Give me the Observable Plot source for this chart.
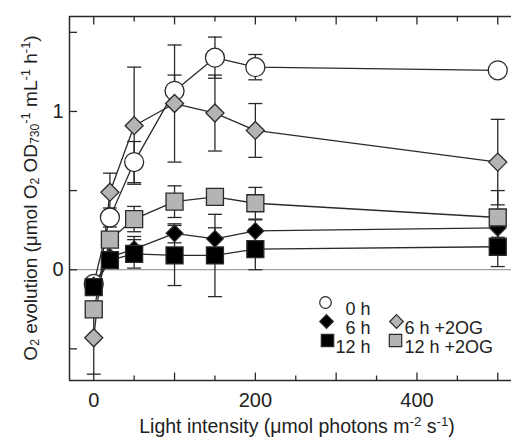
<!DOCTYPE html>
<html><head><meta charset="utf-8">
<script src="https://cdn.jsdelivr.net/npm/d3@7"></script>
<script src="https://cdn.jsdelivr.net/npm/@observablehq/plot@0.6"></script>
<style>body{margin:0;background:#fff;}</style>
</head><body><div id="chart"></div>
<script>
// ---- data ----
const lightX = [0, 20, 50, 100, 150, 200, 500];
const h0      = [-0.09, 0.33, 0.68, 1.13, 1.34, 1.28, 1.26];
const h0Err   = [0.03, 0.06, 0.13, 0.10, 0.13, 0.08, 0.02];
const h6      = [-0.10, 0.08, 0.13, 0.23, 0.195, 0.245, 0.265];
const h6Err   = [0.03, 0.03, 0.08, 0.06, 0.07, 0.07, 0.06];
const h6og    = [-0.43, 0.49, 0.91, 1.05, 0.99, 0.88, 0.68];
const h6ogErr = [0.23, 0.12, 0.37, 0.37, 0.24, 0.17, 0.27];
const h12og   = [-0.25, 0.19, 0.32, 0.43, 0.46, 0.42, 0.33];
const h12ogErr= [0.04, 0.04, 0.08, 0.10, 0.04, 0.10, 0.17];
const h12     = [-0.11, 0.06, 0.10, 0.09, 0.09, 0.13, 0.145];
const h12Err  = [0.03, 0.03, 0.09, 0.19, 0.26, 0.13, 0.125];
const seriesNames = ["0 h", "6 h", "6 h +2OG", "12 h +2OG", "12 h"];
const xMajor = [0, 100, 200, 300, 400, 500];
const xMinor = [50, 150, 250, 350, 450];
const xTickLabels = [0, 200, 400];
const yTicks = [-0.5, 0, 0.5, 1, 1.5];
const yTickLabels = [0, 1];

// ---- symbols ----
function sym(fn){ return {draw(ctx, size){ const r = Math.sqrt(size/Math.PI); fn(ctx, r); }}; }
const circleSym  = sym((c,r)=>{ c.moveTo(r,0); c.arc(0,0,r,0,2*Math.PI); c.closePath(); });
const squareSym  = sym((c,r)=>{ c.rect(-r,-r,2*r,2*r); });
const diamondSym = sym((c,r)=>{ c.moveTo(0,-r); c.lineTo(r,0); c.lineTo(0,r); c.lineTo(-r,0); c.closePath(); });
const capSym     = sym((c,r)=>{ c.moveTo(-r,0); c.lineTo(r,0); });
const tickUp     = sym((c,r)=>{ c.moveTo(0,0); c.lineTo(0,-r); });
const tickDown   = sym((c,r)=>{ c.moveTo(0,0); c.lineTo(0,r); });
const tickRight  = sym((c,r)=>{ c.moveTo(0,0); c.lineTo(r,0); });

const GRAY = "#b4b4b4", INK = "#2a2a2a";
const series = [
  {name: seriesNames[0], y: h0,    e: h0Err,    symbol: circleSym,  fill: "#fff", r: 9.5},
  {name: seriesNames[1], y: h6,    e: h6Err,    symbol: diamondSym, fill: "#000", r: 8.3},
  {name: seriesNames[2], y: h6og,  e: h6ogErr,  symbol: diamondSym, fill: GRAY,   r: 9},
  {name: seriesNames[3], y: h12og, e: h12ogErr, symbol: squareSym,  fill: GRAY,   r: 8.5},
  {name: seriesNames[4], y: h12,   e: h12Err,   symbol: squareSym,  fill: "#000", r: 8.5}
];
const rows = series.flatMap(s => lightX.map((x,i) => ({series: s.name, x, y: s.y[i], err: s.e[i]})));
const caps = rows.flatMap(d => [{x: d.x, y: d.y + d.err}, {x: d.x, y: d.y - d.err}]);

const marks = [
  Plot.ruleY([0], {stroke: "#8a8a8a", strokeWidth: 1}),
  // frame (left, top, bottom)
  Plot.ruleX([-30], {stroke: INK, strokeWidth: 1.5}),
  Plot.ruleY([1.6], {stroke: INK, strokeWidth: 1.5}),
  Plot.ruleY([-0.7], {stroke: INK, strokeWidth: 1.5}),
  // inward ticks
  Plot.dot(xMajor, {x: d => d, frameAnchor: "bottom", symbol: tickUp, r: 8, stroke: INK, strokeWidth: 1.3}),
  Plot.dot(xMinor, {x: d => d, frameAnchor: "bottom", symbol: tickUp, r: 5, stroke: INK, strokeWidth: 1.3}),
  Plot.dot(xMajor, {x: d => d, frameAnchor: "top", symbol: tickDown, r: 8, stroke: INK, strokeWidth: 1.3}),
  Plot.dot(xMinor, {x: d => d, frameAnchor: "top", symbol: tickDown, r: 5, stroke: INK, strokeWidth: 1.3}),
  Plot.dot(yTicks, {y: d => d, frameAnchor: "left", symbol: tickRight, r: 7.5, stroke: INK, strokeWidth: 1.3}),
  // tick labels
  Plot.text(xTickLabels, {x: d => d, text: d => String(d), frameAnchor: "bottom", lineAnchor: "top", dy: 12, fontSize: 20, fill: "#222"}),
  Plot.text(yTickLabels, {y: d => d, text: d => String(d), frameAnchor: "left", textAnchor: "end", dx: -6, fontSize: 20, fill: "#222"}),
  // error bars
  Plot.ruleX(rows, {x: "x", y1: d => d.y - d.err, y2: d => d.y + d.err, stroke: INK, strokeWidth: 1.3}),
  Plot.dot(caps, {x: "x", y: "y", symbol: capSym, r: 7, stroke: INK, strokeWidth: 1.3}),
  // lines
  Plot.line(rows, {x: "x", y: "y", z: "series", stroke: INK, strokeWidth: 1.3})
];
for (const s of series) {
  marks.push(Plot.dot(rows.filter(d => d.series === s.name), {x: "x", y: "y", symbol: s.symbol, r: s.r, fill: s.fill, stroke: INK, strokeWidth: 1.3}));
}
// legend (positions relative to frame top-left)
const legendSym = [
  {i: 0, dx: 256, dy: 286, r: 5.8},
  {i: 1, dx: 257, dy: 305, r: 6.8},
  {i: 2, dx: 327, dy: 305, r: 6.8},
  {i: 4, dx: 258, dy: 324, r: 6.2},
  {i: 3, dx: 326, dy: 324, r: 6.2}
];
for (const L of legendSym) {
  const s = series[L.i];
  marks.push(Plot.dot([0], {frameAnchor: "top-left", dx: L.dx, dy: L.dy, symbol: s.symbol, r: L.r, fill: s.fill, stroke: INK, strokeWidth: 1.2}));
}
const legendText = [
  {t: seriesNames[0], dx: 301, dy: 286, a: "end"},
  {t: seriesNames[1], dx: 301, dy: 305, a: "end"},
  {t: seriesNames[4], dx: 301, dy: 324, a: "end"},
  {t: seriesNames[2], dx: 335, dy: 305, a: "start"},
  {t: seriesNames[3], dx: 335, dy: 324, a: "start"}
];
for (const L of legendText) {
  marks.push(Plot.text([L.t], {text: d => d, frameAnchor: "top-left", dx: L.dx, dy: L.dy, textAnchor: L.a, fontSize: 18, fill: "#222"}));
}

const chart = Plot.plot({
  width: 511, height: 438,
  marginLeft: 69, marginRight: 0, marginTop: 16, marginBottom: 58,
  x: {domain: [-30, 517], axis: null},
  y: {domain: [-0.7, 1.6], axis: null},
  style: {fontFamily: "'Liberation Sans', Arial, sans-serif", background: "#fff", overflow: "visible"},
  marks
});
document.getElementById("chart").appendChild(chart);

// axis titles with sub/superscripts
const svg = d3.select(chart);
function rich(sel, parts, fs) {
  let shift = 0;
  for (const [str, mode] of parts) {
    const target = mode === "sup" ? -0.38 * fs : mode === "sub" ? 0.08 * fs : 0;
    const ts = sel.append("tspan").text(str).attr("dy", target - shift);
    if (mode) ts.attr("font-size", fs * (mode === "sub" ? 0.64 : 0.68));
    shift = target;
  }
}
const xt = svg.append("text").attr("x", 297).attr("y", 433).attr("text-anchor", "middle")
  .attr("font-size", 19.5).attr("fill", "#222").attr("font-family", "'Liberation Sans', Arial, sans-serif");
rich(xt, [["Light intensity (\u03bcmol photons m"], ["-2", "sup"], [" s"], ["-1", "sup"], [")"]], 19.5);
const yt = svg.append("text").attr("transform", "translate(37,198) rotate(-90)").attr("text-anchor", "middle")
  .attr("font-size", 19).attr("fill", "#222").attr("font-family", "'Liberation Sans', Arial, sans-serif");
rich(yt, [["O"], ["2", "sub"], [" evolution (\u03bcmol O"], ["2", "sub"], [" OD"], ["730", "sub"], ["-1", "sup"],
          [" mL"], ["-1", "sup"], [" h"], ["-1", "sup"], [")"]], 19);
</script>
</body></html>
